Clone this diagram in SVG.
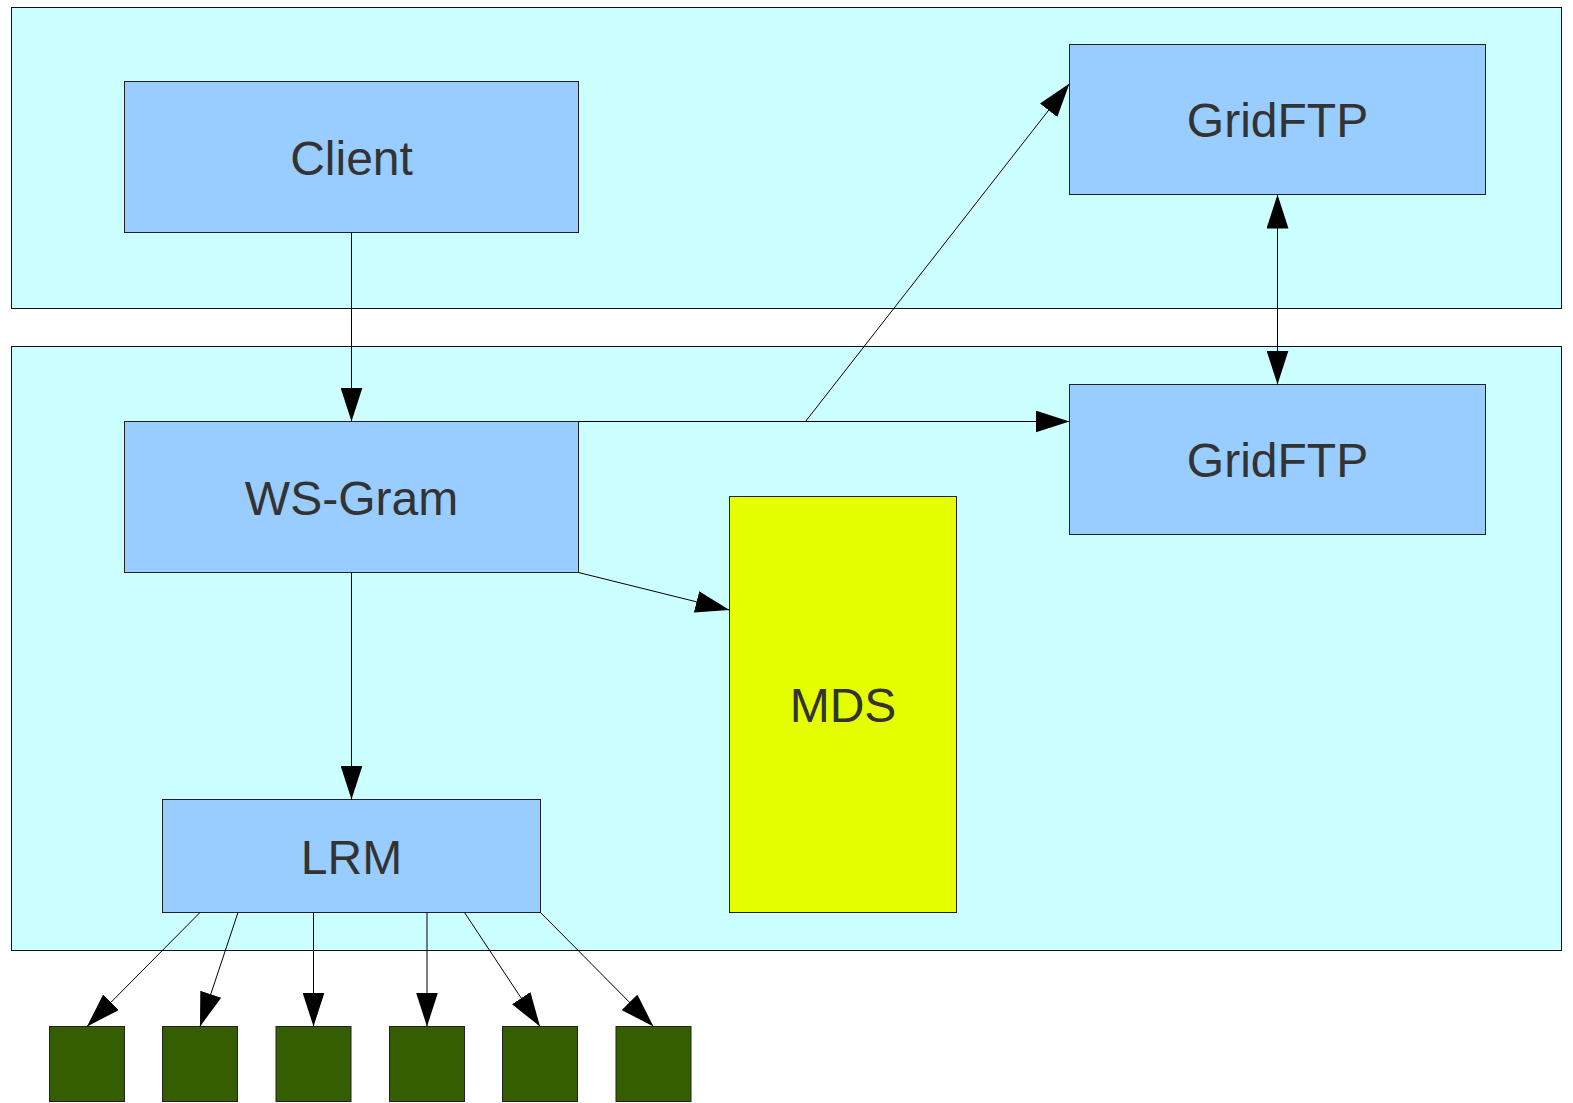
<svg xmlns="http://www.w3.org/2000/svg" width="1573" height="1103" viewBox="0 0 1573 1103">
<style>
.cont{fill:#ccffff;stroke:#111;stroke-width:1}
.box{fill:#99ccff;stroke:#222;stroke-width:1}
.mds{fill:#e6ff00;stroke:#222;stroke-width:1}
.sq{fill:#355e00;stroke:#222;stroke-width:1}
.lbl{font-family:"Liberation Sans",Arial,sans-serif;font-size:48px;fill:#333333;text-anchor:middle}
.con{fill:none;stroke:#000;stroke-width:1}
</style>
<defs>
<marker id="ah" viewBox="0 0 34 22" refX="34" refY="11" markerWidth="34" markerHeight="22" markerUnits="userSpaceOnUse" orient="auto-start-reverse">
<path d="M0,0 L34,11 L0,22 z" fill="#000"/>
</marker>
</defs>
<rect width="1573" height="1103" fill="#ffffff"/>
<g id="container-top"><rect class="cont" x="11.5" y="7.5" width="1550" height="301"/></g>
<g id="container-bottom"><rect class="cont" x="11.5" y="346.5" width="1550" height="604"/></g>
<g id="client"><rect class="box" x="124.5" y="81.5" width="454" height="151"/><text class="lbl" x="351.5" y="174.5">Client</text></g>
<g id="wsgram"><rect class="box" x="124.5" y="421.5" width="454" height="151"/><text class="lbl" x="351.5" y="514.5">WS-Gram</text></g>
<g id="gridftp-top"><rect class="box" x="1069.5" y="44.5" width="416" height="150"/><text class="lbl" x="1277.5" y="136.5">GridFTP</text></g>
<g id="gridftp-bottom"><rect class="box" x="1069.5" y="384.5" width="416" height="150"/><text class="lbl" x="1277.5" y="476.5">GridFTP</text></g>
<g id="mds"><rect class="mds" x="729.5" y="496.5" width="227" height="416"/><text class="lbl" x="843" y="722">MDS</text></g>
<g id="lrm"><rect class="box" x="162.5" y="799.5" width="378" height="113"/><text class="lbl" x="351.5" y="873.5">LRM</text></g>
<g id="node1"><rect class="sq" x="49.5" y="1026.5" width="75" height="75"/></g>
<g id="node2"><rect class="sq" x="162.5" y="1026.5" width="75" height="75"/></g>
<g id="node3"><rect class="sq" x="276" y="1026.5" width="75" height="75"/></g>
<g id="node4"><rect class="sq" x="389.5" y="1026.5" width="75" height="75"/></g>
<g id="node5"><rect class="sq" x="502.5" y="1026.5" width="75" height="75"/></g>
<g id="node6"><rect class="sq" x="616" y="1026.5" width="75" height="75"/></g>
<g id="connectors">
<line class="con" x1="351.5" y1="232.5" x2="351.5" y2="421.5" marker-end="url(#ah)"/>
<line class="con" x1="578.5" y1="421.5" x2="1069.5" y2="421.5" marker-end="url(#ah)"/>
<line class="con" x1="805.5" y1="421.5" x2="1069.5" y2="83.5" marker-end="url(#ah)"/>
<line class="con" x1="578.5" y1="572.5" x2="729.5" y2="610" marker-end="url(#ah)"/>
<line class="con" x1="351.5" y1="572.5" x2="351.5" y2="799.5" marker-end="url(#ah)"/>
<line class="con" x1="1277.5" y1="194.5" x2="1277.5" y2="384.5" marker-start="url(#ah)" marker-end="url(#ah)"/>
<line class="con" x1="200" y1="912.5" x2="87" y2="1026.5" marker-end="url(#ah)"/>
<line class="con" x1="238" y1="912.5" x2="200" y2="1026.5" marker-end="url(#ah)"/>
<line class="con" x1="313.5" y1="912.5" x2="313.5" y2="1026.5" marker-end="url(#ah)"/>
<line class="con" x1="427" y1="912.5" x2="427" y2="1026.5" marker-end="url(#ah)"/>
<line class="con" x1="464.5" y1="912.5" x2="540" y2="1026.5" marker-end="url(#ah)"/>
<line class="con" x1="540.5" y1="912.5" x2="653.5" y2="1026.5" marker-end="url(#ah)"/>
</g>
</svg>
